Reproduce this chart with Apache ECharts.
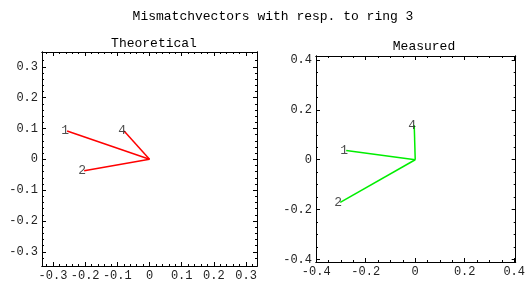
<!DOCTYPE html>
<html>
<head>
<meta charset="utf-8">
<script src="https://cdn.jsdelivr.net/npm/echarts@6/dist/echarts.min.js"></script>
<style>
  html, body { margin: 0; padding: 0; background: #fff; }
  #chart { width: 528px; height: 283px; }
</style>
</head>
<body>
<div id="chart"></div>
<script>
// vector names (ring numbers)
var theoNames = ['1', '2', '4'];
var theoX = [-0.256, -0.203, -0.079];
var theoY = [0.092, -0.037, 0.092];

var measNames = ['1', '2', '4'];
var measX = [-0.279, -0.303, -0.004];
var measY = [0.037, -0.171, 0.138];

// tick labels
var theoTicks = [-0.3, -0.2, -0.1, 0, 0.1, 0.2, 0.3];
var measTicks = [-0.4, -0.2, 0, 0.2, 0.4];

var FONT = '"Liberation Mono", "DejaVu Sans Mono", monospace';

function minorTicks(from, to, step) {
    var out = [];
    for (var v = from; v <= to + 1e-9; v += step) {
        out.push(Math.round(v * 1000) / 1000);
    }
    return out;
}

// four axes per side of the frame: labelled major, minor, opposite major, opposite minor
function frameAxes(grid, min, max, majors, minors, pos, opp) {
    function ax(position, ticks, len, labels) {
        return {
            gridIndex: grid, type: 'value', min: min, max: max, position: position,
            axisLine: { show: true, onZero: false, lineStyle: { color: '#000', width: 1 } },
            splitLine: { show: false },
            axisTick: { show: true, inside: true, length: len, customValues: ticks,
                        lineStyle: { color: '#000', width: 1 } },
            axisLabel: { show: labels, customValues: ticks, color: '#222', fontFamily: FONT,
                         fontSize: 12, margin: 4, hideOverlap: false }
        };
    }
    return [
        ax(pos, majors, 4, true),
        ax(pos, minors, 2, false),
        ax(opp, majors, 4, false),
        ax(opp, minors, 2, false)
    ];
}

var theoMinor = minorTicks(-0.32, 0.32, 0.02);
var measMinor = minorTicks(-0.4, 0.4, 0.05);

var xAxes = frameAxes(0, -0.334, 0.334, theoTicks, theoMinor, 'bottom', 'top')
    .concat(frameAxes(1, -0.401, 0.406, measTicks, measMinor, 'bottom', 'top'));
var yAxes = frameAxes(0, -0.346, 0.348, theoTicks, theoMinor, 'left', 'right')
    .concat(frameAxes(1, -0.41, 0.416, measTicks, measMinor, 'left', 'right'));

function vectorSeries(names, xs, ys, color, axisIdx, width) {
    var list = [];
    for (var i = 0; i < names.length; i++) {
        list.push({
            type: 'line', xAxisIndex: axisIdx, yAxisIndex: axisIdx,
            data: [[0, 0], [xs[i], ys[i]]],
            symbol: 'none', silent: true, animation: false,
            lineStyle: { color: color, width: width }
        });
    }
    var pts = [];
    for (var j = 0; j < names.length; j++) {
        pts.push({ value: [xs[j], ys[j]], name: names[j] });
    }
    list.push({
        type: 'scatter', xAxisIndex: axisIdx, yAxisIndex: axisIdx,
        data: pts, symbolSize: 2, itemStyle: { color: 'rgba(0,0,0,0)' }, animation: false,
        z: 5,
        label: { show: true, position: 'inside', offset: [-2, 0], formatter: '{b}',
                 color: '#222', fontFamily: FONT, fontSize: 13 }
    });
    return list;
}

var series = vectorSeries(theoNames, theoX, theoY, '#ff0000', 0, 1.5)
    .concat(vectorSeries(measNames, measX, measY, '#00ee00', 4, 1.5));

var chart = echarts.init(document.getElementById('chart'), null, { renderer: 'canvas' });
chart.setOption({
    animation: false,
    backgroundColor: '#fff',
    title: [
        { text: 'Mismatchvectors with resp. to ring 3', left: 268, top: 5, textAlign: 'center',
          textStyle: { fontFamily: FONT, fontSize: 13, fontWeight: 'normal', color: '#000' } },
        { text: 'Theoretical', left: 149, top: 32, textAlign: 'center',
          textStyle: { fontFamily: FONT, fontSize: 13, fontWeight: 'normal', color: '#000' } },
        { text: 'Measured', left: 419, top: 35, textAlign: 'center',
          textStyle: { fontFamily: FONT, fontSize: 13, fontWeight: 'normal', color: '#000' } }
    ],
    grid: [
        { left: 42, top: 52, width: 215, height: 214 },
        { left: 316, top: 56, width: 207, height: 206 }
    ],
    xAxis: xAxes,
    yAxis: yAxes,
    series: series
});
</script>
</body>
</html>
